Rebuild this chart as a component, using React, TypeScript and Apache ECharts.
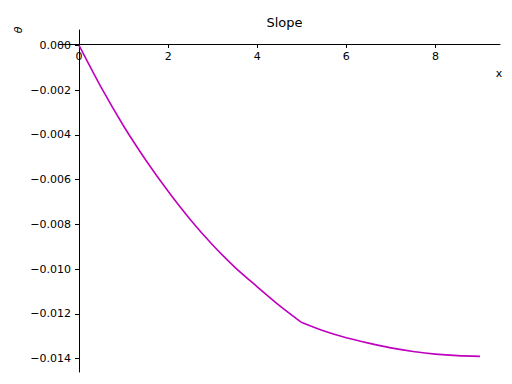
import React, { useEffect, useRef } from "react";
import * as echarts from "echarts";

// Segment 1: 0 <= x <= 5
const xValuesA = [0, 0.5, 1, 1.5, 2, 2.5, 3, 3.5, 4, 4.5, 5];
const thetaValuesA = [0, -0.00189, -0.0036, -0.00513, -0.00652, -0.00779, -0.00892, -0.00992, -0.01079, -0.01163, -0.01239];
// Segment 2: 5 <= x <= 9
const xValuesB = [5, 5.5, 6, 6.5, 7, 7.5, 8, 8.5, 9];
const thetaValuesB = [-0.01239, -0.01277, -0.01307, -0.01331, -0.01352, -0.01368, -0.0138, -0.01387, -0.0139];

const xTicks = [0, 2, 4, 6, 8];
const yTicks = [0, -0.002, -0.004, -0.006, -0.008, -0.01, -0.012, -0.014];

const FONT = "DejaVu Sans";
const LINE_COLOR = "#bf00bf";

export default function App() {
  const ref = useRef<HTMLDivElement>(null);
  useEffect(() => {
    if (!ref.current) return;
    const chart = echarts.init(ref.current, undefined, { renderer: "svg" });
    chart.setOption({
      animation: false,
      backgroundColor: "#ffffff",
      title: {
        text: "Slope",
        left: 279.5,
        top: 11,
        textAlign: "center",
        textStyle: { fontFamily: FONT, fontSize: 13, fontWeight: "normal", color: "#000" },
      },
      grid: { left: 59, right: 12, top: 30, bottom: 12 },
      xAxis: {
        type: "value",
        position: "top",
        offset: -14,
        min: -0.45,
        max: 9.45,
        axisLine: { onZero: false, lineStyle: { color: "#000", width: 1 } },
        axisTick: { show: true, length: 4, inside: true, customValues: xTicks, lineStyle: { color: "#000" } },
        axisLabel: {
          customValues: xTicks,
          inside: true,
          margin: 7,
          fontFamily: FONT,
          fontSize: 11,
          color: "#000",
          formatter: (v: number) => String(v),
        },
        splitLine: { show: false },
      },
      yAxis: {
        type: "value",
        position: "left",
        offset: -20,
        min: -0.0146,
        max: 0.00069,
        axisLine: { onZero: false, lineStyle: { color: "#000", width: 1 } },
        axisTick: { show: true, length: 4, inside: false, customValues: yTicks, lineStyle: { color: "#000" } },
        axisLabel: {
          customValues: yTicks,
          margin: 8,
          fontFamily: FONT,
          fontSize: 11,
          color: "#000",
          formatter: (v: number) => (Math.abs(v) < 1e-12 ? "0.000" : (v < 0 ? "\u2212" : "") + Math.abs(v).toFixed(3)),
        },
        splitLine: { show: false },
      },
      graphic: [
        {
          type: "text",
          x: 18,
          y: 30,
          rotation: Math.PI / 2,
          style: { text: "\u03b8", fontFamily: FONT, fontSize: 11, fontStyle: "italic", fill: "#000", align: "center", verticalAlign: "middle" },
        },
        {
          type: "text",
          x: 499,
          y: 73,
          style: { text: "x", fontFamily: FONT, fontSize: 11, fill: "#000", align: "center", verticalAlign: "middle" },
        },
      ],
      series: [
        {
          type: "line",
          data: xValuesA.map((x, i) => [x, thetaValuesA[i]]),
          showSymbol: false,
          smooth: 0.25,
          lineStyle: { color: LINE_COLOR, width: 1.6 },
        },
        {
          type: "line",
          data: xValuesB.map((x, i) => [x, thetaValuesB[i]]),
          showSymbol: false,
          smooth: 0.25,
          lineStyle: { color: LINE_COLOR, width: 1.6 },
        },
      ],
    });
    return () => chart.dispose();
  }, []);
  return <div ref={ref} style={{ position: "fixed", left: 0, top: 0, width: 512, height: 384 }} />;
}
